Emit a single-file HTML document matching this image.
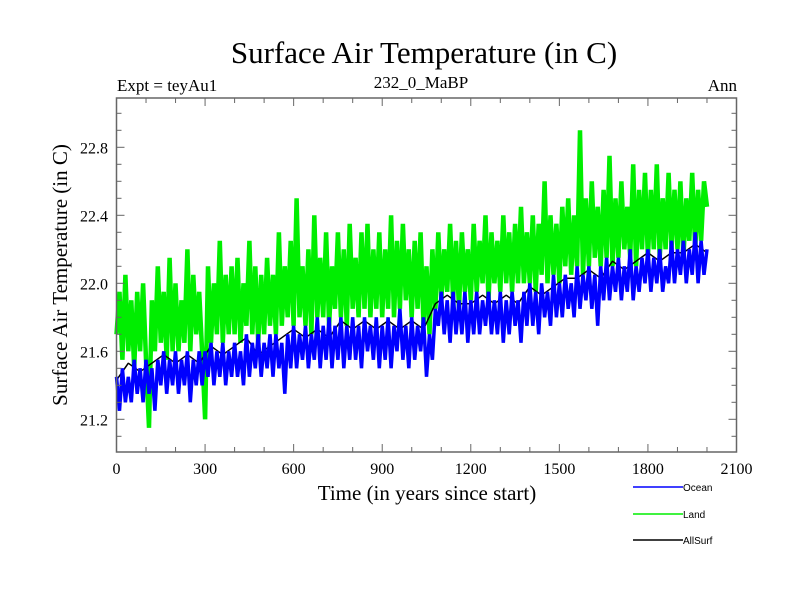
<!DOCTYPE html>
<html><head><meta charset="utf-8"><style>
body{margin:0;background:#fff}
svg text{font-family:"Liberation Serif",serif;fill:#000}
</style></head><body>
<svg id="chart" width="800" height="600" xmlns="http://www.w3.org/2000/svg">
<rect width="800" height="600" fill="#fff"/>
<text x="424" y="63" font-size="31" text-anchor="middle">Surface Air Temperature (in C)</text>
<text x="117" y="91" font-size="17">Expt = teyAu1</text>
<text x="421" y="88" font-size="17" text-anchor="middle">232_0_MaBP</text>
<text x="737" y="91" font-size="17" text-anchor="end">Ann</text>
<text transform="translate(67,275) rotate(-90)" font-size="21" text-anchor="middle">Surface Air Temperature (in C)</text>
<text x="427" y="500" font-size="21" text-anchor="middle">Time (in years since start)</text>
<g id="plot"></g>
<g id="axes"></g>
<g id="legend"></g>
</svg>
<script>
const years=[];for(let i=0;i<=200;i++)years.push(i*10);
const landValues=[
21.7,21.95,21.55,22.05,21.6,21.9,21.5,21.95,21.6,22.0,
21.55,21.15,21.9,21.6,22.1,21.65,21.95,21.55,22.15,21.6,
22.0,21.6,21.9,21.65,22.2,21.6,22.05,21.7,21.95,21.6,
21.2,22.1,21.65,22.0,21.7,22.25,21.65,22.05,21.7,22.1,
21.7,22.15,21.65,22.0,21.75,22.25,21.7,22.1,21.65,22.05,
21.7,22.15,21.75,22.05,21.7,22.3,21.75,22.1,21.8,22.25,
21.75,22.5,21.8,22.1,21.75,22.2,21.7,22.4,21.8,22.15,
21.8,22.3,21.75,22.1,21.85,22.3,21.8,22.2,21.75,22.35,
21.85,22.15,21.8,22.3,21.85,22.35,21.8,22.2,21.85,22.3,
21.8,22.2,21.85,22.4,21.8,22.25,21.85,22.35,21.9,22.2,
21.8,22.25,21.85,22.3,21.75,22.1,21.7,22.2,21.85,22.3,
21.9,22.2,21.95,22.35,21.9,22.25,21.85,22.3,21.95,22.2,
21.9,22.35,21.95,22.25,22.0,22.4,21.9,22.3,22.0,22.25,
21.95,22.4,22.0,22.3,21.95,22.35,22.0,22.45,22.0,22.3,
22.0,22.4,21.95,22.35,22.05,22.6,22.0,22.4,22.05,22.35,
22.0,22.45,22.1,22.5,22.05,22.4,22.1,22.9,22.05,22.5,
22.1,22.6,22.15,22.45,22.1,22.55,22.15,22.75,22.1,22.5,
22.15,22.6,22.2,22.45,22.15,22.7,22.1,22.55,22.2,22.65,
22.15,22.55,22.2,22.7,22.15,22.5,22.2,22.65,22.2,22.55,
22.2,22.6,22.15,22.5,22.25,22.65,22.2,22.55,22.25,22.6,
22.45];
const oceanValues=[
21.45,21.25,21.5,21.3,21.45,21.3,21.55,21.35,21.5,21.3,
21.55,21.35,21.5,21.25,21.55,21.4,21.6,21.35,21.55,21.4,
21.6,21.35,21.55,21.4,21.6,21.3,21.55,21.4,21.6,21.4,
21.6,21.45,21.65,21.4,21.6,21.45,21.65,21.4,21.6,21.45,
21.65,21.45,21.6,21.4,21.7,21.45,21.65,21.5,21.7,21.45,
21.65,21.5,21.7,21.45,21.7,21.5,21.65,21.35,21.7,21.5,
21.75,21.5,21.7,21.55,21.75,21.5,21.7,21.55,21.8,21.5,
21.75,21.55,21.8,21.5,21.75,21.55,21.8,21.5,21.75,21.55,
21.8,21.55,21.75,21.5,21.8,21.6,21.75,21.55,21.8,21.5,
21.75,21.55,21.8,21.5,21.75,21.6,21.85,21.55,21.75,21.5,
21.8,21.55,21.75,21.6,21.8,21.45,21.7,21.55,21.85,21.75,
21.95,21.7,21.9,21.65,21.95,21.7,21.9,21.7,21.95,21.65,
21.9,21.7,21.95,21.7,21.9,21.75,21.95,21.7,21.9,21.7,
21.95,21.65,21.9,21.7,21.95,21.75,21.9,21.65,21.95,21.75,
22.0,21.75,21.95,21.7,22.0,21.8,21.95,21.75,22.05,21.8,
22.0,21.8,22.05,21.85,22.0,21.8,22.1,21.85,22.05,21.9,
22.1,21.85,22.05,21.75,22.1,21.9,22.15,21.9,22.1,21.95,
22.15,21.9,22.1,21.95,22.2,21.9,22.1,21.95,22.15,22.0,
22.2,21.95,22.15,22.0,22.2,21.95,22.1,22.0,22.25,22.0,
22.2,22.05,22.25,22.0,22.2,22.05,22.3,22.0,22.25,22.05,
22.2];
const allYears=[];for(let i=0;i<=50;i++)allYears.push(i*40);
const allValues=[21.43,21.53,21.48,21.53,21.58,21.53,21.58,21.53,21.63,21.58,21.63,21.68,21.58,21.63,21.68,21.73,21.68,21.73,21.68,21.78,21.73,21.78,21.73,21.78,21.73,21.78,21.73,21.88,21.93,21.88,21.88,21.93,21.88,21.93,21.88,21.98,21.93,21.98,22.03,22.03,22.08,22.03,22.13,22.08,22.13,22.18,22.13,22.18,22.18,22.23,22.18];
const xTicks=[0,300,600,900,1200,1500,1800,2100];
const yTicks=[21.2,21.6,22.0,22.4,22.8];
const NS="http://www.w3.org/2000/svg";
const X0=116.5,X1=736.5,Y0=98,Y1=452;
function xs(t){return X0+(t/2100)*(X1-X0);}
function ys(v){return 147.3+(22.8-v)*170;}
function mk(tag,attrs,parent){const e=document.createElementNS(NS,tag);for(const k in attrs)e.setAttribute(k,attrs[k]);parent.appendChild(e);return e;}
const plot=document.getElementById('plot'),axes=document.getElementById('axes'),legend=document.getElementById('legend');
function series(xsArr,vals,color,w,name){
  const d=vals.map((v,i)=>(i?'L':'M')+xs(xsArr[i]).toFixed(1)+','+ys(v).toFixed(1)).join('');
  const p=mk('path',{d:d,fill:'none',stroke:color,'stroke-width':w,'stroke-linejoin':'bevel'},plot);
  
  
}
series(years,landValues,'#00ee00',4.5,'land-line');
series(allYears,allValues,'#000',1.5,'allsurf-line');
series(years,oceanValues,'#0000ff',3.5,'ocean-line');
const frame=mk('rect',{x:X0,y:Y0,width:X1-X0,height:Y1-Y0,fill:'none',stroke:'#666','stroke-width':1.5},axes);


for(let t=0;t<=2100;t+=100){const big=t%300===0;const L=big?8:5;
 mk('line',{x1:xs(t),x2:xs(t),y1:Y1,y2:Y1-L,stroke:'#666'},axes);
 mk('line',{x1:xs(t),x2:xs(t),y1:Y0,y2:Y0+L,stroke:'#666'},axes);}
for(let k=0;k<=21;k++){const v=21.0+k*0.1;const y=ys(v);if(y<Y0||y>Y1)continue;const big=(k%4===2);const L=big?8:5;
 mk('line',{x1:X0,x2:X0+L,y1:y,y2:y,stroke:'#666'},axes);
 mk('line',{x1:X1,x2:X1-L,y1:y,y2:y,stroke:'#666'},axes);}
xTicks.forEach(t=>{const tx=mk('text',{x:xs(t),y:474,'font-size':16,'text-anchor':'middle'},axes);tx.textContent=t;
 
 });
yTicks.forEach(v=>{const tx=mk('text',{x:108,y:ys(v)+6,'font-size':16,'text-anchor':'end'},axes);tx.textContent=v.toFixed(1);
 
 });
const leg=[['Ocean','#0000ff',487],['Land','#00ee00',514],['AllSurf','#000',540]];
leg.forEach(([n,c,y])=>{const g=mk('g',{},legend);
 
 
 mk('line',{x1:633,x2:683,y1:y,y2:y,stroke:c,'stroke-width':1.5},g);
 const t=mk('text',{x:683,y:y+4,'font-size':10,style:'font-family:"Liberation Sans",sans-serif'},g);t.textContent=n;});
</script>
</body></html>
